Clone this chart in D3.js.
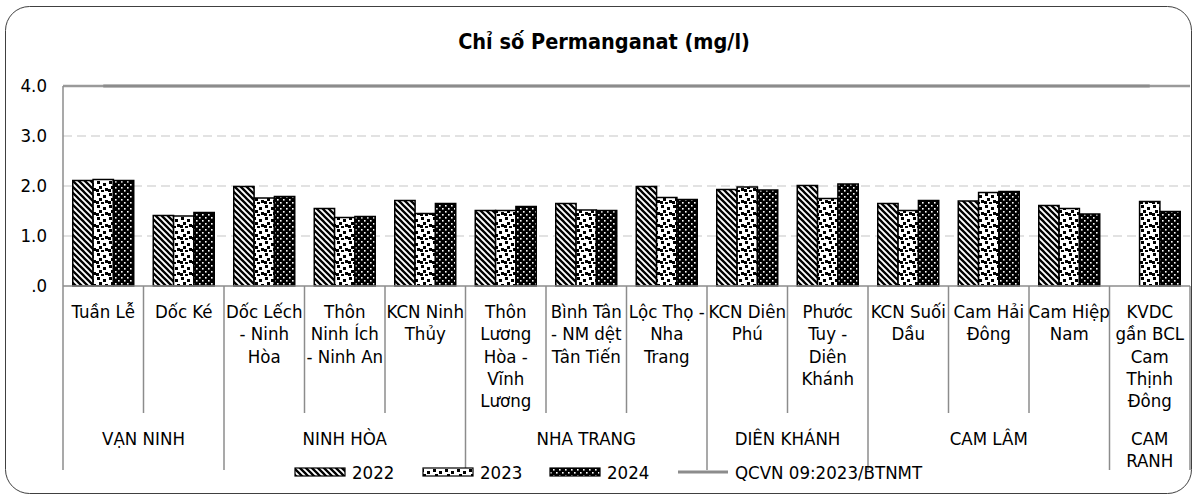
<!DOCTYPE html>
<html>
<head>
<meta charset="utf-8">
<script src="https://cdn.jsdelivr.net/npm/d3@7/dist/d3.min.js"></script>
<style>
  html, body { margin: 0; padding: 0; background: #fff; }
  svg { display: block; }
  text { font-family: "DejaVu Sans Condensed", "DejaVu Sans", sans-serif; fill: #000; }
</style>
</head>
<body>
<svg id="chart" width="1195" height="500"></svg>
<script>
// Monitoring sites (line breaks as they wrap under each column)
const categories = [
  "Tuần Lễ",
  "Dốc Ké",
  "Dốc Lếch\n- Ninh\nHòa",
  "Thôn\nNinh Ích\n- Ninh An",
  "KCN Ninh\nThủy",
  "Thôn\nLương\nHòa -\nVĩnh\nLương",
  "Bình Tân\n- NM dệt\nTân Tiến",
  "Lộc Thọ -\nNha\nTrang",
  "KCN Diên\nPhú",
  "Phước\nTuy -\nDiên\nKhánh",
  "KCN Suối\nDầu",
  "Cam Hải\nĐông",
  "Cam Hiệp\nNam",
  "KVDC\ngần BCL\nCam\nThịnh\nĐông"
];

// Districts and how many sites each covers
const regionNames = ["VẠN NINH", "NINH HÒA", "NHA TRANG", "DIÊN KHÁNH", "CAM LÂM", "CAM RANH"];
const regionSizes = [2, 3, 3, 2, 3, 1];

// Permanganate index (mg/l) per year
const years = ["2022", "2023", "2024"];
const values2022 = [2.11, 1.41, 1.99, 1.55, 1.71, 1.51, 1.65, 1.99, 1.93, 2.01, 1.65, 1.70, 1.61, null];
const values2023 = [2.13, 1.40, 1.76, 1.37, 1.45, 1.51, 1.52, 1.77, 1.98, 1.75, 1.51, 1.87, 1.55, 1.69];
const values2024 = [2.11, 1.47, 1.79, 1.39, 1.65, 1.59, 1.51, 1.73, 1.92, 2.04, 1.71, 1.89, 1.44, 1.49];

// Regulatory limit
const limitLabel = "QCVN 09:2023/BTNMT";
const limitValue = 4.0;

const yTicks = [0, 1, 2, 3, 4];
const yTickLabels = [".0", "1.0", "2.0", "3.0", "4.0"];

const title = "Chỉ số Permanganat (mg/l)";

const seriesValues = [values2022, values2023, values2024];

const svg = d3.select("#chart");
const plot = { left: 63, right: 1190, top: 86, bottom: 286 };
const gray = "#8c8c8c";
const FS = 18.5;

// Patterns for the three years
const defs = svg.append("defs");
const p1 = defs.append("pattern").attr("id", "pat2022")
  .attr("patternUnits", "userSpaceOnUse").attr("width", 6).attr("height", 6);
p1.append("rect").attr("width", 6).attr("height", 6).attr("fill", "#fff");
p1.append("path").attr("d", "M-1,-1 L7,7 M-4,2 L2,8 M4,-2 L10,4")
  .attr("stroke", "#000").attr("stroke-width", 2.3);

const p2 = defs.append("pattern").attr("id", "pat2023")
  .attr("patternUnits", "userSpaceOnUse").attr("width", 12).attr("height", 12);
p2.append("rect").attr("width", 12).attr("height", 12).attr("fill", "#fff");
[[1, 1], [7, 3], [3, 6], [9, 8], [5, 10], [0, 9]].forEach(([cx, cy]) => {
  p2.append("rect").attr("x", cx).attr("y", cy).attr("width", 3).attr("height", 3).attr("fill", "#000");
});

const p3 = defs.append("pattern").attr("id", "pat2024")
  .attr("patternUnits", "userSpaceOnUse").attr("width", 6).attr("height", 6);
p3.append("rect").attr("width", 6).attr("height", 6).attr("fill", "#000");
p3.append("rect").attr("x", 1).attr("y", 1).attr("width", 1.6).attr("height", 1.6).attr("fill", "#fff");
p3.append("rect").attr("x", 4).attr("y", 4).attr("width", 1.6).attr("height", 1.6).attr("fill", "#fff");

const fills = ["url(#pat2022)", "url(#pat2023)", "url(#pat2024)"];

// Outer frame
svg.append("rect")
  .attr("x", 5.5).attr("y", 6.5).attr("width", 1186).attr("height", 487)
  .attr("rx", 24).attr("ry", 24)
  .attr("fill", "#fff").attr("stroke", "#404040").attr("stroke-width", 1);

// Title
svg.append("text")
  .attr("x", 604).attr("y", 49)
  .attr("text-anchor", "middle")
  .attr("font-size", 21.5).attr("font-weight", "bold")
  .text(title);

// Scales
const x = d3.scaleBand()
  .domain(d3.range(categories.length))
  .range([plot.left, plot.right])
  .paddingInner(0).paddingOuter(0);

const x1 = d3.scaleBand()
  .domain(years)
  .range([0, x.bandwidth()])
  .paddingInner(0).paddingOuter(0.48);

const y = d3.scaleLinear().domain([0, 4]).range([plot.bottom, plot.top]);

// Gridlines
svg.append("g")
  .selectAll("line")
  .data(yTicks.filter(t => t > 0 && t < 4))
  .join("line")
  .attr("x1", plot.left).attr("x2", plot.right)
  .attr("y1", d => y(d)).attr("y2", d => y(d))
  .attr("stroke", "#d9d9d9").attr("stroke-width", 1.5)
  .attr("stroke-dasharray", "9,5");

// Top boundary at 4.0
svg.append("line")
  .attr("x1", plot.left).attr("x2", plot.right)
  .attr("y1", y(4)).attr("y2", y(4))
  .attr("stroke", "#9a9a9a").attr("stroke-width", 2.5);

// Y axis
const yAxis = d3.axisLeft(y)
  .tickValues(yTicks)
  .tickFormat((d, i) => yTickLabels[i])
  .tickSize(0).tickPadding(16);
const yg = svg.append("g").attr("transform", `translate(${plot.left},0)`).call(yAxis);
yg.select(".domain").remove();
yg.selectAll("text").attr("font-size", FS).attr("font-family", null);

svg.append("line")
  .attr("x1", plot.left).attr("x2", plot.left)
  .attr("y1", y(4)).attr("y2", plot.bottom)
  .attr("stroke", gray).attr("stroke-width", 1.5);

// Bars
const barG = svg.append("g");
categories.forEach((c, i) => {
  years.forEach((yr, s) => {
    const v = seriesValues[s][i];
    if (v == null) return;
    barG.append("rect")
      .attr("x", x(i) + x1(yr))
      .attr("y", y(v))
      .attr("width", x1.bandwidth())
      .attr("height", y(0) - y(v))
      .attr("fill", fills[s])
      .attr("stroke", "#000").attr("stroke-width", 1.5);
  });
});

// Regulatory limit line across the band centres
svg.append("path")
  .datum(categories.map((c, i) => i))
  .attr("d", d3.line().x(i => x(i) + x.bandwidth() / 2).y(() => y(limitValue)))
  .attr("stroke", "#8c8c8c").attr("stroke-width", 3).attr("fill", "none");

// X axis baseline
svg.append("line")
  .attr("x1", plot.left).attr("x2", plot.right)
  .attr("y1", plot.bottom).attr("y2", plot.bottom)
  .attr("stroke", gray).attr("stroke-width", 1.5);

// Category separators and region separators
const regionBounds = [0];
regionSizes.forEach(n => regionBounds.push(regionBounds[regionBounds.length - 1] + n));
const boundaryX = i => (i < categories.length ? x(i) : plot.right);

d3.range(categories.length + 1).forEach(i => {
  const isRegion = regionBounds.includes(i);
  svg.append("line")
    .attr("x1", boundaryX(i)).attr("x2", boundaryX(i))
    .attr("y1", plot.bottom).attr("y2", isRegion ? 470 : 413)
    .attr("stroke", gray).attr("stroke-width", 1.5);
});

// Category labels
const lineH = 22.3;
svg.append("g")
  .selectAll("text")
  .data(categories)
  .join("text")
  .attr("text-anchor", "middle")
  .attr("font-size", FS)
  .attr("transform", (d, i) => `translate(${x(i) + x.bandwidth() / 2},318)`)
  .each(function (d) {
    d.split("\n").forEach((ln, k) => {
      d3.select(this).append("tspan").attr("x", 0).attr("y", k * lineH).text(ln);
    });
  });

// Region labels
regionNames.forEach((name, r) => {
  const cx = (boundaryX(regionBounds[r]) + boundaryX(regionBounds[r + 1])) / 2;
  const words = regionSizes[r] === 1 ? name.split(" ") : [name];
  const t = svg.append("text").attr("text-anchor", "middle").attr("font-size", FS)
    .attr("transform", `translate(${cx},444.5)`);
  words.forEach((w, k) => t.append("tspan").attr("x", 0).attr("y", k * lineH).text(w));
});

// Legend
const legend = svg.append("g");
const legendItems = [
  { x: 295, label: years[0], fill: fills[0] },
  { x: 423, label: years[1], fill: fills[1] },
  { x: 550, label: years[2], fill: fills[2] }
];
legendItems.forEach(it => {
  legend.append("rect")
    .attr("x", it.x).attr("y", 468).attr("width", 50).attr("height", 8)
    .attr("fill", it.fill).attr("stroke", "#000").attr("stroke-width", 1.2);
  legend.append("text")
    .attr("x", it.x + 57).attr("y", 478.5).attr("font-size", FS).text(it.label);
});
legend.append("line")
  .attr("x1", 678).attr("x2", 728).attr("y1", 472).attr("y2", 472)
  .attr("stroke", "#8c8c8c").attr("stroke-width", 3);
legend.append("text")
  .attr("x", 735).attr("y", 478.5).attr("font-size", FS).text(limitLabel);
</script>
</body>
</html>
